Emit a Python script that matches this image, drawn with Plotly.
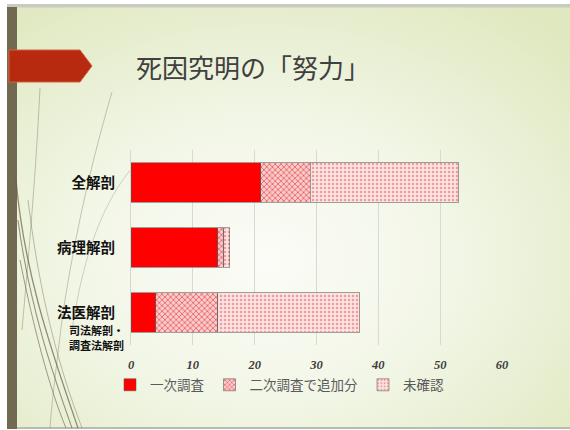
import base64
import plotly.graph_objects as go

# ---- data -------------------------------------------------------------
categories = ["全解剖", "病理解剖", "法医解剖"]
first_survey = [21, 14, 4]          # 一次調査
second_survey_added = [8, 1, 10]    # 二次調査で追加分
unconfirmed = [24, 1, 23]           # 未確認
x_ticks = [0, 10, 20, 30, 40, 50, 60]
series_names = ["一次調査", "二次調査で追加分", "未確認"]

# ---- geometry helpers (page pixels -> paper coordinates) -------------
PAGE_W, PAGE_H = 570, 430
L, R, T, B = 131, 502, 150, 345
W, H = R - L, B - T


def px(x):
    return (x - L) / W


def py(y):
    return (B - y) / H


def pt(x, y):
    return f"{px(x):.4f},{py(y):.4f}"


def curve(start, *segments):
    s = "M " + pt(*start)
    for c1, c2, end in segments:
        s += " C " + pt(*c1) + " " + pt(*c2) + " " + pt(*end)
    return s


def polygon(points):
    s = "M " + pt(*points[0])
    for p in points[1:]:
        s += " L " + pt(*p)
    return s + " Z"


CJK = "Noto Sans CJK JP"

fig = go.Figure()

fig.add_trace(go.Bar(
    y=categories, x=first_survey, name=series_names[0], orientation="h",
    marker=dict(color="#ff0000", line=dict(color="rgba(90,90,90,0.7)", width=0.8)),
))
fig.add_trace(go.Bar(
    y=categories, x=second_survey_added, name=series_names[1], orientation="h",
    marker=dict(color="#f6c4c4", line=dict(color="rgba(90,90,90,0.7)", width=0.8),
                pattern=dict(shape="x", fgcolor="#e84040", bgcolor="#f8cccc",
                             size=4, solidity=0.3, fillmode="replace")),
))
fig.add_trace(go.Bar(
    y=categories, x=unconfirmed, name=series_names[2], orientation="h",
    marker=dict(color="#fbe2e0", line=dict(color="rgba(90,90,90,0.7)", width=0.8),
                pattern=dict(shape=".", fgcolor="#ee9c9c", bgcolor="#fbe3e1",
                             size=4, solidity=0.3, fillmode="replace")),
))

# ---- slide background: soft radial gradient -----------------------------
svg = f"""<svg xmlns='http://www.w3.org/2000/svg' width='{PAGE_W}' height='{PAGE_H}'>
<defs><radialGradient id='g' cx='0.46' cy='0.6' r='0.75'>
<stop offset='0' stop-color='#fbfcf7'/>
<stop offset='0.45' stop-color='#f2f6e6'/>
<stop offset='1' stop-color='#dfe8bf'/>
</radialGradient></defs>
<rect width='100%' height='100%' fill='url(#g)'/></svg>"""
bg_uri = "data:image/svg+xml;base64," + base64.b64encode(svg.encode()).decode()

images = [dict(source=bg_uri, xref="paper", yref="paper",
               x=px(7), y=py(7), sizex=(PAGE_W - 7) / W, sizey=(427 - 7) / H,
               xanchor="left", yanchor="top", sizing="stretch", layer="below")]

shapes = []
# top and bottom border lines of the slide
shapes.append(dict(type="rect", xref="paper", yref="paper", layer="below",
                   x0=px(7), x1=px(PAGE_W), y0=py(4), y1=py(7.5),
                   fillcolor="#c9cbc1", line=dict(width=0)))
shapes.append(dict(type="rect", xref="paper", yref="paper", layer="below",
                   x0=px(7), x1=px(PAGE_W), y0=py(427), y1=py(429),
                   fillcolor="#b9bab2", line=dict(width=0)))
# vertical brown bar
shapes.append(dict(type="rect", xref="paper", yref="paper", layer="below",
                   x0=px(7), x1=px(17), y0=py(7), y1=py(429),
                   fillcolor="#726a50", line=dict(width=0)))

# wispy decorative curves
curves = [
    (curve((40, 88), ((36, 170), (30, 240), (22, 330))), 0.7, "rgba(110,104,78,0.55)"),
    (curve((112, 92), ((95, 150), (75, 230), (62, 320)), ((56, 370), (52, 400), (50, 428))),
     0.8, "rgba(110,104,78,0.45)"),
    (curve((132, 168), ((105, 200), (84, 250), (72, 330))), 0.7, "rgba(110,104,78,0.4)"),
    (curve((16, 180), ((25, 280), (55, 360), (78, 428))), 1.3, "rgba(100,95,70,0.7)"),
    (curve((18, 220), ((30, 310), (55, 380), (72, 428))), 1.1, "rgba(100,95,70,0.65)"),
    (curve((20, 260), ((34, 330), (50, 390), (66, 428))), 1.0, "rgba(100,95,70,0.6)"),
    (curve((28, 200), ((40, 300), (60, 370), (82, 428))), 0.8, "rgba(100,95,70,0.5)"),
]
for d, w, col in curves:
    shapes.append(dict(type="path", xref="paper", yref="paper", layer="below",
                       path=d, line=dict(color=col, width=w)))

# red arrow tab beside the title
shapes.append(dict(type="path", xref="paper", yref="paper", layer="above",
                   path=polygon([(9, 50), (80, 50), (92, 66), (80, 82), (9, 82)]),
                   fillcolor="#b82a10", line=dict(color="#d06040", width=1)))

annotations = [
    dict(text="死因究明の「努力」", xref="paper", yref="paper",
         x=px(134), y=py(66), xanchor="left", yanchor="middle", showarrow=False,
         font=dict(family=CJK, size=26, color="#404040")),
    dict(text="司法解剖・", xref="paper", yref="paper",
         x=px(67), y=py(330), xanchor="left", yanchor="middle", showarrow=False,
         font=dict(family=CJK, size=11, color="#111111", weight="bold")),
    dict(text="調査法解剖", xref="paper", yref="paper",
         x=px(67), y=py(345), xanchor="left", yanchor="middle", showarrow=False,
         font=dict(family=CJK, size=11, color="#111111", weight="bold")),
]

fig.update_layout(
    width=PAGE_W, height=PAGE_H,
    margin=dict(l=L, r=PAGE_W - R, t=T, b=PAGE_H - B, autoexpand=False),
    paper_bgcolor="#ffffff",
    plot_bgcolor="rgba(0,0,0,0)",
    barmode="stack",
    bargap=0.385,
    images=images,
    shapes=shapes,
    annotations=annotations,
    showlegend=True,
    legend=dict(orientation="h", x=px(110), y=py(385), xanchor="left", yanchor="middle",
                bgcolor="rgba(0,0,0,0)", itemwidth=30, traceorder="normal",
                font=dict(family=CJK, size=13.5, color="#5a5a5a")),
    xaxis=dict(range=[0, 60], tickvals=x_ticks, ticktext=[str(v) for v in x_ticks],
               showgrid=True, gridcolor="#d8d9d2", gridwidth=1, zeroline=False,
               showline=False, ticks="", ticklabelstandoff=10,
               tickfont=dict(family="Liberation Serif", size=12.5, color="#3c3c3c",
                             style="italic", weight="bold")),
    yaxis=dict(autorange="reversed", showgrid=False, zeroline=False,
               showline=True, linecolor="#d6d6d0", linewidth=1, ticks="",
               ticklabelstandoff=12,
               tickfont=dict(family=CJK, size=14.5, color="#111111", weight="bold")),
)

fig.write_html("out.html")
